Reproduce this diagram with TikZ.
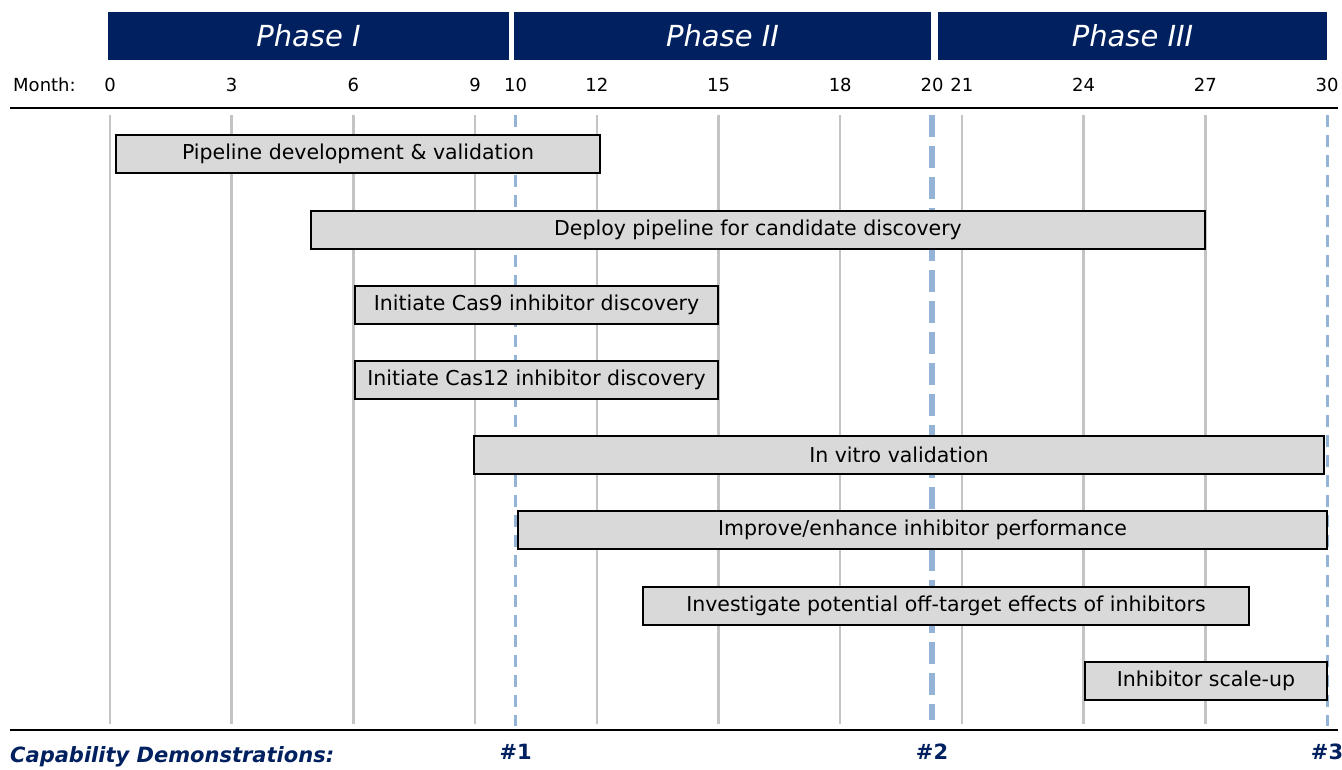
\documentclass[tikz,border=0pt]{standalone}
\usepackage{fontspec}
\setmainfont{DejaVu Sans}
\definecolor{navy}{HTML}{002060}
\definecolor{gridgray}{HTML}{C4C4C4}
\definecolor{milestone}{HTML}{95B3D7}
\definecolor{barfill}{HTML}{D9D9D9}
\begin{document}
\begin{tikzpicture}[x=1pt,y=-1pt,
  phasebox/.style={fill=navy, draw=none, minimum height=48, inner sep=0,
    text=white, font=\fontsize{29}{32}\selectfont\itshape},
  taskbar/.style={fill=barfill, draw=black, line width=2, minimum height=38,
    inner sep=0, font=\fontsize{20.5}{23}\selectfont},
  monthlbl/.style={font=\fontsize{18}{20}\selectfont, inner sep=0},
  gridline/.style={draw=gridgray, line width=2.5},
  demo/.style={text=navy, font=\fontsize{21}{23}\selectfont\bfseries, inner sep=0},
  axisline/.style={draw=black, line width=2.5}]
\useasboundingbox (0,0) rectangle (1342,769);

% month -> x position (month 20 sits on the phase boundary)
\def\mx#1{110+40.567*#1}
\def\xtwenty{932}

% phase headers
\node[phasebox, minimum width=401] (ph1) at (308.5,36) {Phase I};
\node[phasebox, minimum width=417] (ph2) at (722.5,36) {Phase II};
\node[phasebox, minimum width=389] (ph3) at (1132.5,36) {Phase III};

% month scale
\node[monthlbl, anchor=west] (monthhdr) at (13,85) {Month:};
\foreach \m in {0,3,6,9,10,12,15,18,21,24,27,30}{
  \node[monthlbl] (m\m) at ({\mx{\m}},85) {\m};
}
\node[monthlbl] (m20) at (\xtwenty,85) {20};

% axis rules
\coordinate (axtl) at (10,108);
\coordinate (axtr) at (1338,108);
\coordinate (axbl) at (10,730);
\coordinate (axbr) at (1338,730);
\draw[axisline] (axtl) -- (axtr);
\draw[axisline] (axbl) -- (axbr);

% grid lines every three months
\foreach \m in {0,3,6,9,12,15,18,21,24,27}{
  \coordinate (g\m t) at ({\mx{\m}},115);
  \coordinate (g\m b) at ({\mx{\m}},724);
  \draw[gridline] (g\m t) -- (g\m b);
}

% capability demonstration markers
\coordinate (d1t) at ({\mx{10}},115);
\coordinate (d1b) at ({\mx{10}},726);
\coordinate (d2t) at (\xtwenty,115);
\coordinate (d2b) at (\xtwenty,720);
\coordinate (d3t) at ({\mx{30}},115);
\coordinate (d3b) at ({\mx{30}},726);
\draw[milestone, line width=3, dash pattern=on 12 off 8] (d1t) -- (d1b);
\draw[milestone, line width=6, dash pattern=on 22 off 9] (d2t) -- (d2b);
\draw[milestone, line width=3, dash pattern=on 12 off 8] (d3t) -- (d3b);

% task bars
\node[taskbar, minimum width=484] (t1) at (358,154) {Pipeline development \& validation};
\node[taskbar, minimum width=894] (t2) at (758,229.5) {Deploy pipeline for candidate discovery};
\node[taskbar, minimum width=363] (t3) at (536.5,305) {Initiate Cas9 inhibitor discovery};
\node[taskbar, minimum width=363] (t4) at (536.5,380) {Initiate Cas12 inhibitor discovery};
\node[taskbar, minimum width=850] (t5) at (899,455) {In vitro validation};
\node[taskbar, minimum width=809] (t6) at (922.5,530) {Improve/enhance inhibitor performance};
\node[taskbar, minimum width=606] (t7) at (946,606) {Investigate potential off-target effects of inhibitors};
\node[taskbar, minimum width=242] (t8) at (1206,681) {Inhibitor scale-up};

% footer
\node[text=navy, font=\fontsize{21}{23}\selectfont\bfseries\itshape, anchor=west, inner sep=0] (capdemo) at (10,757) {Capability Demonstrations:};
\node[demo] (n1) at ({\mx{10}},752) {\#1};
\node[demo] (n2) at (\xtwenty,752) {\#2};
\node[demo] (n3) at ({\mx{30}},752) {\#3};
\end{tikzpicture}
\end{document}
